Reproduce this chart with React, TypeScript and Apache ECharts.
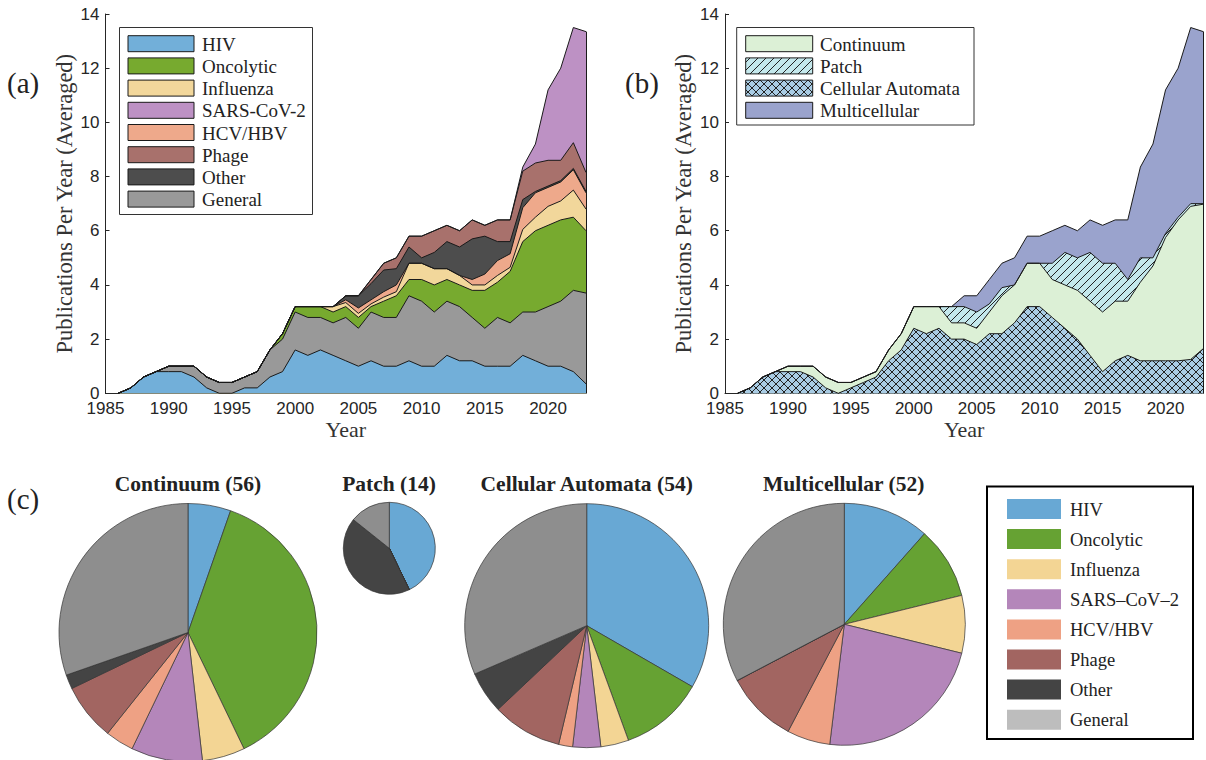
import React, { useEffect, useRef } from "react";
import * as echarts from "echarts";

// ---------- DATA ----------
const years = [
  1986, 1987, 1988, 1989, 1990, 1991, 1992, 1993, 1994, 1995,
  1996, 1997, 1998, 1999, 2000, 2001, 2002, 2003, 2004, 2005,
  2006, 2007, 2008, 2009, 2010, 2011, 2012, 2013, 2014, 2015,
  2016, 2017, 2018, 2019, 2020, 2021, 2022, 2023,
];

// Panel (a): stacked in this order (bottom to top)
const hivA = [0, 0.2, 0.6, 0.8, 0.8, 0.8, 0.6, 0.2, 0, 0, 0.2, 0.2, 0.6, 0.8, 1.6, 1.4, 1.6, 1.4, 1.2, 1.0, 1.2, 1.0, 1.0, 1.2, 1.0, 1.0, 1.4, 1.2, 1.2, 1.0, 1.0, 1.0, 1.4, 1.2, 1.0, 1.0, 0.8, 0.35];
const generalA = [0, 0, 0, 0, 0.2, 0.2, 0.4, 0.4, 0.4, 0.4, 0.4, 0.6, 1.0, 1.2, 1.4, 1.4, 1.2, 1.2, 1.6, 1.4, 1.8, 1.8, 1.8, 2.4, 2.4, 2.0, 2.0, 2.0, 1.6, 1.4, 1.8, 1.6, 1.6, 1.8, 2.2, 2.4, 3.0, 3.35];
const oncolyticA = [0, 0, 0, 0, 0, 0, 0, 0, 0, 0, 0, 0, 0, 0.2, 0.2, 0.4, 0.4, 0.4, 0.4, 0.4, 0.2, 0.6, 0.8, 0.6, 0.8, 1.0, 0.8, 0.8, 1.0, 1.4, 1.3, 1.9, 2.6, 3.0, 3.0, 3.0, 2.7, 2.3];
const influenzaA = [0, 0, 0, 0, 0, 0, 0, 0, 0, 0, 0, 0, 0, 0, 0, 0, 0, 0.2, 0.15, 0.15, 0.1, 0.15, 0.15, 0.6, 0.6, 0.6, 0.4, 0.35, 0.2, 0.2, 0.25, 0.15, 0.45, 0.5, 0.7, 0.7, 1.0, 0.8];
const hcvA = [0, 0, 0, 0, 0, 0, 0, 0, 0, 0, 0, 0, 0, 0, 0, 0, 0, 0, 0.1, 0.2, 0.15, 0.2, 0.25, 0, 0, 0, 0, 0, 0.2, 0.4, 0.55, 0.5, 0.8, 0.9, 0.7, 0.7, 0.75, 0.6];
const otherA = [0, 0, 0, 0, 0, 0, 0, 0, 0, 0, 0, 0, 0, 0, 0, 0, 0, 0, 0.15, 0.45, 0.6, 0.8, 0.6, 0.6, 0.2, 0.6, 1.0, 1.05, 1.5, 1.4, 0.7, 0.45, 0.3, 0.05, 0.05, 0.05, 0.05, 0.05];
const phageA = [0, 0, 0, 0, 0, 0, 0, 0, 0, 0, 0, 0, 0, 0, 0, 0, 0, 0, 0, 0, 0.15, 0.25, 0.4, 0.4, 0.8, 0.8, 0.6, 0.6, 0.7, 0.4, 0.8, 0.8, 1.05, 1.05, 0.95, 0.75, 0.95, 0.7];
const sarsA = [0, 0, 0, 0, 0, 0, 0, 0, 0, 0, 0, 0, 0, 0, 0, 0, 0, 0, 0, 0, 0, 0, 0, 0, 0, 0, 0, 0, 0, 0, 0, 0, 0.15, 0.7, 2.6, 3.4, 4.25, 5.2];

// Panel (b): stacked bottom to top
const cellularB = [0, 0.2, 0.6, 0.8, 0.8, 0.8, 0.6, 0.2, 0, 0.2, 0.4, 0.6, 1.2, 1.6, 2.4, 2.2, 2.4, 2.0, 2.0, 1.8, 2.2, 2.2, 2.6, 3.2, 3.2, 2.8, 2.4, 2.0, 1.4, 0.8, 1.2, 1.4, 1.2, 1.2, 1.2, 1.2, 1.25, 1.65];
const continuumB = [0, 0, 0, 0, 0.2, 0.2, 0.4, 0.4, 0.4, 0.2, 0.2, 0.2, 0.4, 0.6, 0.8, 1.0, 0.8, 0.6, 0.6, 0.6, 0.8, 1.4, 1.4, 1.6, 1.6, 1.4, 1.6, 1.8, 2.0, 2.2, 2.2, 2.0, 2.9, 3.5, 4.55, 5.2, 5.65, 5.33];
const patchB = [0, 0, 0, 0, 0, 0, 0, 0, 0, 0, 0, 0, 0, 0, 0, 0, 0, 0.6, 0.6, 0.6, 0.3, 0.3, 0, 0, 0, 0.6, 1.2, 1.2, 1.8, 1.8, 1.4, 0.8, 0.9, 0.3, 0.15, 0.1, 0.1, 0.02];
const multicellularB = [0, 0, 0, 0, 0, 0, 0, 0, 0, 0, 0, 0, 0, 0, 0, 0, 0, 0, 0.4, 0.6, 0.9, 0.9, 1.0, 1.0, 1.0, 1.2, 1.0, 1.0, 1.2, 1.4, 1.6, 2.2, 3.35, 4.2, 5.3, 5.5, 6.5, 6.35];

// Panel (c): paper counts per category
const pieCategories = ["HIV", "Oncolytic", "Influenza", "SARS\u2013CoV\u20132", "HCV/HBV", "Phage", "Other", "General"];
const continuumCounts = [3, 21, 3, 5, 2, 4, 1, 17];
const patchCounts = [6, 0, 0, 0, 0, 0, 6, 2];
const cellularCounts = [18, 6, 2, 2, 1, 5, 3, 17];
const multicellularCounts = [6, 5, 4, 12, 3, 5, 0, 17];

const legendA = ["HIV", "Oncolytic", "Influenza", "SARS-CoV-2", "HCV/HBV", "Phage", "Other", "General"];
const legendB = ["Continuum", "Patch", "Cellular Automata", "Multicellular"];

// ---------- STYLE ----------
const SERIF = '"Liberation Serif", "DejaVu Serif", serif';
const SANS = '"Liberation Sans", Arial, sans-serif';
const AXIS = "#262626";
const EDGE = "#1a1a1a";

const colA: Record<string, string> = {
  HIV: "#72afd9",
  Oncolytic: "#77aa2f",
  Influenza: "#f2d79b",
  "SARS-CoV-2": "#bd91c4",
  "HCV/HBV": "#eea98b",
  Phage: "#a8716c",
  Other: "#4d4d4d",
  General: "#999999",
};
const pieColors = ["#68a8d4", "#66a233", "#f3d594", "#b486ba", "#eea184", "#a26561", "#444444", "#8e8e8e"];
const pieLegendColors = ["#68a8d4", "#66a233", "#f3d594", "#b486ba", "#eea184", "#a26561", "#444444", "#bdbdbd"];

function makePattern(bg: string, cross: boolean) {
  const c = document.createElement("canvas");
  const s = 8;
  c.width = s;
  c.height = s;
  const ctx = c.getContext("2d")!;
  ctx.fillStyle = bg;
  ctx.fillRect(0, 0, s, s);
  ctx.strokeStyle = "#222";
  ctx.lineWidth = 1;
  ctx.beginPath();
  ctx.moveTo(-1, s + 1);
  ctx.lineTo(s + 1, -1);
  if (cross) {
    ctx.moveTo(-1, -1);
    ctx.lineTo(s + 1, s + 1);
  }
  ctx.stroke();
  return { image: c, repeat: "repeat" };
}

export default function App() {
  const ref = useRef<HTMLDivElement>(null);

  useEffect(() => {
    if (!ref.current) return;
    const chart = echarts.init(ref.current, undefined, { renderer: "svg" });

    const patchPattern = makePattern("#c4e8ec", false);
    const cellPattern = makePattern("#a9cce4", true);
    const colB: Record<string, any> = {
      Continuum: "#dcf0d6",
      Patch: patchPattern,
      "Cellular Automata": cellPattern,
      Multicellular: "#9aa3cd",
    };

    const mkX = (gi: number) => ({
      type: "value",
      gridIndex: gi,
      min: 1985,
      max: 2023,
      interval: 5,
      axisLine: { show: true, onZero: false, lineStyle: { color: AXIS, width: 1 } },
      axisTick: { show: true, inside: true, length: 4, lineStyle: { color: AXIS } },
      axisLabel: {
        formatter: (v: number) => String(v),
        showMaxLabel: false,
        fontSize: 17,
        fontFamily: SANS,
        color: AXIS,
        margin: 7,
      },
      splitLine: { show: false },
      name: "Year",
      nameLocation: "middle",
      nameGap: 25,
      nameTextStyle: { fontFamily: SERIF, fontSize: 22, color: "#333" },
    });
    const mkY = (gi: number) => ({
      type: "value",
      gridIndex: gi,
      min: 0,
      max: 14,
      interval: 2,
      axisLine: { show: true, lineStyle: { color: AXIS, width: 1 } },
      axisTick: { show: true, inside: true, length: 4, lineStyle: { color: AXIS } },
      axisLabel: { fontSize: 17, fontFamily: SANS, color: AXIS, margin: 6 },
      splitLine: { show: false },
      name: "Publications Per Year (Averaged)",
      nameLocation: "middle",
      nameGap: 30,
      nameRotate: 90,
      nameTextStyle: { fontFamily: SERIF, fontSize: 22.5, color: "#333" },
    });

    const stackA: [string, number[]][] = [
      ["HIV", hivA],
      ["General", generalA],
      ["Oncolytic", oncolyticA],
      ["Influenza", influenzaA],
      ["HCV/HBV", hcvA],
      ["Other", otherA],
      ["Phage", phageA],
      ["SARS-CoV-2", sarsA],
    ];
    const stackB: [string, number[]][] = [
      ["Cellular Automata", cellularB],
      ["Continuum", continuumB],
      ["Patch", patchB],
      ["Multicellular", multicellularB],
    ];

    const lastIdx = years.length - 1;

    // Cumulative layers; drawn top layer first so lower (opaque) layers cover the part below each boundary.
    const areaSeries = (st: [string, number[]][], gi: number, colors: Record<string, any>) => {
      const cums: number[][] = [];
      st.forEach(([, arr], k) => {
        cums.push(arr.map((v, i) => (k === 0 ? 0 : cums[k - 1][i]) + v));
      });
      const out: any[] = [];
      for (let k = st.length - 1; k >= 0; k--) {
        const [name] = st[k];
        const cum = cums[k];
        out.push({
          type: "line",
          name,
          xAxisIndex: gi,
          yAxisIndex: gi,
          symbol: "none",
          silent: true,
          z: 2,
          lineStyle: { color: EDGE, width: 1 },
          areaStyle: { color: colors[name], opacity: 1, origin: "start" },
          data: years.map((y, i) => [y, Number(cum[i].toFixed(4))]),
          markLine:
            k === st.length - 1
              ? {
                  silent: true,
                  symbol: "none",
                  label: { show: false },
                  lineStyle: { color: EDGE, width: 1, type: "solid" },
                  data: [[{ coord: [years[lastIdx], 0] }, { coord: [years[lastIdx], cum[lastIdx]] }]],
                }
              : undefined,
        });
      }
      return out;
    };

    const sum = (a: number[]) => a.reduce((s, v) => s + v, 0);
    const pies = [
      { title: "Continuum", counts: continuumCounts, center: [188, 632.5], r: 129 },
      { title: "Patch", counts: patchCounts, center: [389.3, 548.3], r: 46 },
      { title: "Cellular Automata", counts: cellularCounts, center: [586.7, 625.7], r: 122 },
      { title: "Multicellular", counts: multicellularCounts, center: [844.3, 624.3], r: 121 },
    ];
    const pieSeries = pies.map((p) => ({
      type: "pie",
      silent: true,
      center: p.center,
      radius: p.r,
      startAngle: 90,
      clockwise: true,
      label: { show: false },
      labelLine: { show: false },
      itemStyle: { borderColor: "#333", borderWidth: 0.7 },
      data: pieCategories.map((c, i) => ({ name: c, value: p.counts[i], itemStyle: { color: pieColors[i] } })),
    }));
    const titleX = [188, 389, 586.7, 843.7];

    const txt = (text: string, x: number, y: number, size: number, opts: any = {}) => ({
      type: "text",
      z: 100,
      silent: true,
      style: {
        text,
        x,
        y,
        font: `${opts.bold ? "bold " : ""}${size}px ${SERIF}`,
        fill: opts.fill || "#222",
        align: opts.align || "left",
        textAlign: opts.align || "left",
        verticalAlign: "middle",
        textVerticalAlign: "middle",
      },
    });

    const graphic: any[] = [];
    // panel labels
    graphic.push(txt("(a)", 7, 83, 29));
    graphic.push(txt("(b)", 625, 83, 29));
    graphic.push(txt("(c)", 7, 499, 29));
    // pie titles
    pies.forEach((p, i) => {
      graphic.push(txt(`${p.title} (${sum(p.counts)})`, titleX[i], 483.5, 21.5, { bold: true, align: "center" }));
    });

    // legend (a)
    graphic.push({
      type: "rect",
      z: 90,
      silent: true,
      shape: { x: 119.5, y: 27.5, width: 193, height: 187 },
      style: { fill: "#fff", stroke: "#333", lineWidth: 1 },
    });
    legendA.forEach((name, i) => {
      const y = 35.7 + i * 22.2;
      graphic.push({
        type: "rect",
        z: 95,
        silent: true,
        shape: { x: 128, y, width: 66, height: 16 },
        style: { fill: colA[name], stroke: EDGE, lineWidth: 1 },
      });
      graphic.push(txt(name, 202, y + 8.5, 19));
    });

    // legend (b)
    graphic.push({
      type: "rect",
      z: 90,
      silent: true,
      shape: { x: 736.7, y: 27.5, width: 237.3, height: 97.5 },
      style: { fill: "#fff", stroke: "#333", lineWidth: 1 },
    });
    legendB.forEach((name, i) => {
      const y = 35.7 + i * 22.2;
      graphic.push({
        type: "rect",
        z: 95,
        silent: true,
        shape: { x: 745.7, y, width: 67, height: 16 },
        style: { fill: colB[name], stroke: EDGE, lineWidth: 1 },
      });
      graphic.push(txt(name, 820, y + 8.5, 19));
    });

    // legend (c)
    graphic.push({
      type: "rect",
      z: 90,
      silent: true,
      shape: { x: 987, y: 486.5, width: 206, height: 252.5 },
      style: { fill: "#fff", stroke: "#000", lineWidth: 2 },
    });
    pieCategories.forEach((name, i) => {
      const y = 499 + i * 30.1;
      graphic.push({
        type: "rect",
        z: 95,
        silent: true,
        shape: { x: 1007, y, width: 54, height: 20 },
        style: { fill: pieLegendColors[i] },
      });
      graphic.push(txt(name, 1070, y + 10.5, 18.5));
    });

    const option: any = {
      animation: false,
      backgroundColor: "#ffffff",
      grid: [
        { left: 105.5, top: 14, width: 480.5, height: 379.3 },
        { left: 725, top: 14, width: 478.3, height: 379.3 },
      ],
      xAxis: [mkX(0), mkX(1)],
      yAxis: [mkY(0), mkY(1)],
      series: [...areaSeries(stackA, 0, colA), ...areaSeries(stackB, 1, colB), ...pieSeries],
      graphic,
    };

    chart.setOption(option);
    return () => chart.dispose();
  }, []);

  return (
    <div
      ref={ref}
      style={{ position: "fixed", left: 0, top: 0, width: 1206, height: 760, background: "#fff" }}
    />
  );
}
